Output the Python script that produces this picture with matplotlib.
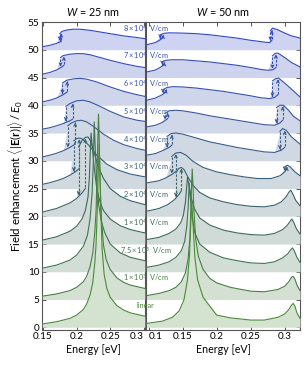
import numpy as np
import matplotlib
matplotlib.use("Agg")
import matplotlib.pyplot as plt
from matplotlib.colors import LinearSegmentedColormap, to_rgb

# ---------------- data ----------------
field_labels = ["linear", r"$1\times10^{3}$  V/cm", r"$7.5\times10^{3}$  V/cm",
                r"$1\times10^{4}$  V/cm", r"$2\times10^{4}$  V/cm", r"$3\times10^{4}$  V/cm",
                r"$4\times10^{4}$  V/cm", r"$5\times10^{4}$  V/cm", r"$6\times10^{4}$  V/cm",
                r"$7\times10^{4}$  V/cm", r"$8\times10^{4}$  V/cm"]
offset_step = 5
panel_titles = [r"$W$ = 25 nm", r"$W$ = 50 nm"]
xticks_25 = [0.15, 0.2, 0.25, 0.3]
xticks_50 = [0.1, 0.15, 0.2, 0.25, 0.3]
xticklabels_25 = ["0.15", "0.2", "0.25", "0.3"]
xticklabels_50 = ["0.1", "0.15", "0.2", "0.25", "0.3"]
yticks = [0, 5, 10, 15, 20, 25, 30, 35, 40, 45, 50, 55]

# ---- W = 25 nm (enhancement above each curve's own baseline) ----
w25_lin = [(0.149, 0.6), (0.17, 1.0), (0.19, 1.6), (0.20, 2.2), (0.21, 3.2), (0.215, 4.2), (0.22, 5.8),
           (0.224, 8.0), (0.227, 11.5), (0.229, 15), (0.231, 22), (0.2325, 29), (0.2335, 33),
           (0.2345, 29), (0.236, 21), (0.238, 14), (0.241, 9.5), (0.245, 7.0), (0.25, 5.4),
           (0.26, 3.9), (0.27, 3.1), (0.28, 2.6), (0.3015, 2.0)]
w25_1e3 = [(0.149, 0.6), (0.17, 1.0), (0.19, 1.6), (0.20, 2.2), (0.21, 3.2), (0.215, 4.2), (0.22, 5.9),
           (0.224, 8.3), (0.227, 12), (0.229, 16), (0.2305, 23), (0.2318, 30), (0.2326, 33.4),
           (0.2336, 29), (0.235, 21), (0.237, 14.5), (0.24, 9.8), (0.244, 7.2), (0.25, 5.4),
           (0.26, 3.9), (0.27, 3.1), (0.28, 2.6), (0.3015, 2.0)]
w25_75e3 = [(0.149, 0.65), (0.17, 1.2), (0.19, 2.1), (0.20, 3.0), (0.21, 4.6), (0.216, 6.5), (0.22, 9.5),
            (0.223, 14), (0.225, 20), (0.2262, 27), (0.2275, 23), (0.23, 16), (0.233, 12), (0.237, 9),
            (0.242, 7), (0.25, 5.0), (0.265, 3.4), (0.28, 2.6), (0.3015, 2.0)]
w25_1e4 = [(0.149, 0.7), (0.17, 1.3), (0.19, 2.3), (0.20, 3.2), (0.208, 4.5), (0.213, 6.0), (0.217, 8.5),
           (0.219, 12), (0.2205, 17), (0.2215, 20), (0.223, 18), (0.226, 14), (0.23, 10), (0.235, 7.5),
           (0.24, 6.0), (0.25, 4.5), (0.265, 3.3), (0.28, 2.6), (0.3015, 2.0)]
w25_2e4_lo = [(0.149, 0.75), (0.17, 1.4), (0.19, 2.4), (0.20, 3.2), (0.208, 4.2), (0.213, 5.0)]
w25_2e4_hi = [(0.203, 12.5), (0.208, 13.6), (0.213, 14.2), (0.217, 14.3), (0.221, 13.5), (0.226, 11.5),
              (0.232, 9.0), (0.24, 6.8), (0.25, 5.0), (0.265, 3.6), (0.28, 2.8), (0.3015, 2.1)]
w25_3e4_lo = [(0.149, 0.75), (0.16, 1.05), (0.17, 1.4), (0.18, 1.8), (0.19, 2.4), (0.198, 3.0), (0.204, 3.6)]
w25_3e4_hi = [(0.196, 8.6), (0.20, 9.0), (0.205, 9.1), (0.21, 8.8), (0.218, 7.8), (0.23, 6.0),
              (0.245, 4.4), (0.26, 3.4), (0.28, 2.6), (0.3015, 2.1)]
w25_4e4_lo = [(0.149, 0.7), (0.16, 1.0), (0.17, 1.35), (0.18, 1.8), (0.19, 2.4), (0.198, 3.0)]
w25_4e4_hi = [(0.187, 6.3), (0.192, 6.8), (0.20, 7.2), (0.207, 7.3), (0.215, 7.0), (0.225, 6.2),
              (0.24, 4.8), (0.255, 3.7), (0.27, 2.9), (0.29, 2.2), (0.3015, 1.9)]
w25_5e4_lo = [(0.149, 0.7), (0.16, 0.95), (0.17, 1.3), (0.18, 1.7), (0.19, 2.2), (0.194, 2.5)]
w25_5e4_hi = [(0.184, 4.8), (0.19, 5.3), (0.20, 5.8), (0.21, 5.9), (0.22, 5.6), (0.235, 4.8),
              (0.25, 3.9), (0.27, 2.9), (0.29, 2.3), (0.3015, 2.1)]
w25_6e4_lo = [(0.149, 0.6), (0.16, 0.9), (0.17, 1.3), (0.18, 1.9), (0.186, 2.4)]
w25_6e4_hi = [(0.179, 4.0), (0.185, 4.5), (0.195, 4.75), (0.205, 4.85), (0.215, 4.7), (0.23, 4.2),
              (0.25, 3.3), (0.27, 2.5), (0.29, 1.9), (0.3015, 1.6)]
w25_7e4_lo = [(0.149, 0.6), (0.16, 0.9), (0.17, 1.35), (0.178, 1.9), (0.181, 2.2)]
w25_7e4_hi = [(0.176, 3.6), (0.18, 3.95), (0.19, 4.2), (0.20, 4.3), (0.21, 4.3), (0.22, 4.1),
              (0.235, 3.6), (0.25, 3.1), (0.27, 2.5), (0.29, 2.0), (0.3015, 1.8)]
w25_8e4_lo = [(0.149, 0.55), (0.16, 0.8), (0.17, 1.15), (0.177, 1.5)]
w25_8e4_hi = [(0.175, 2.9), (0.178, 3.3), (0.185, 3.55), (0.195, 3.7), (0.205, 3.7), (0.22, 3.5),
              (0.235, 3.2), (0.25, 2.9), (0.27, 2.5), (0.29, 2.2), (0.3015, 2.0)]

# ---- W = 50 nm ----
w50_lin = [(0.097, 0.7), (0.12, 1.1), (0.135, 1.8), (0.145, 3.0), (0.152, 5.0), (0.157, 8.5), (0.16, 13),
           (0.162, 19), (0.1635, 22.5), (0.165, 19), (0.168, 12.5), (0.172, 8.5), (0.18, 5.4),
           (0.19, 3.8), (0.20, 2.2), (0.22, 1.7), (0.25, 1.3), (0.27, 1.3), (0.29, 1.8), (0.30, 2.4),
           (0.306, 3.2), (0.31, 4.0), (0.3125, 4.3), (0.315, 3.8), (0.318, 2.6), (0.3225, 1.6)]
w50_1e3 = [(0.097, 0.7), (0.115, 1.1), (0.13, 1.6), (0.14, 2.2), (0.148, 3.2), (0.154, 4.8), (0.158, 7.3),
           (0.1605, 11), (0.162, 16), (0.1632, 21), (0.164, 23.5), (0.165, 21), (0.1665, 16), (0.169, 11),
           (0.173, 7.8), (0.18, 5.4), (0.19, 3.8), (0.20, 3.0), (0.22, 2.2), (0.25, 1.5), (0.27, 1.4),
           (0.29, 1.8), (0.30, 2.4), (0.306, 3.2), (0.31, 4.0), (0.3123, 4.2), (0.315, 3.7), (0.318, 2.6),
           (0.3225, 1.6)]
w50_75e3 = [(0.097, 0.8), (0.115, 1.2), (0.13, 1.8), (0.14, 2.6), (0.148, 3.8), (0.153, 5.5), (0.156, 8.2),
            (0.158, 11.5), (0.1595, 16), (0.161, 13.5), (0.164, 9.8), (0.168, 7.0), (0.175, 5.0),
            (0.19, 3.5), (0.21, 2.5), (0.23, 2.0), (0.25, 1.6), (0.27, 1.5), (0.285, 1.8), (0.297, 2.5),
            (0.305, 3.3), (0.309, 4.0), (0.3115, 4.3), (0.314, 3.8), (0.318, 2.6), (0.3225, 1.7)]
w50_1e4 = [(0.097, 0.8), (0.115, 1.2), (0.13, 1.9), (0.14, 2.7), (0.147, 3.8), (0.151, 5.2), (0.154, 7.5),
           (0.156, 10.5), (0.157, 12), (0.159, 10.8), (0.162, 8.6), (0.167, 6.4), (0.175, 4.7),
           (0.19, 3.4), (0.21, 2.5), (0.23, 2.0), (0.25, 1.7), (0.27, 1.6), (0.285, 1.9), (0.297, 2.6),
           (0.304, 3.4), (0.308, 4.1), (0.3105, 4.5), (0.313, 4.0), (0.317, 2.8), (0.3225, 1.8)]
w50_2e4_a = [(0.097, 0.9), (0.115, 1.4), (0.128, 2.1), (0.138, 3.0), (0.145, 4.0), (0.148, 4.6)]
w50_2e4_b = [(0.14, 7.8), (0.144, 8.6), (0.148, 8.8), (0.152, 8.4), (0.158, 7.0), (0.165, 5.6),
             (0.175, 4.3), (0.19, 3.3), (0.21, 2.6), (0.23, 2.1), (0.25, 1.8), (0.27, 1.7), (0.285, 2.0),
             (0.295, 2.6), (0.302, 3.5), (0.306, 4.3), (0.309, 4.7), (0.312, 4.0), (0.316, 2.9),
             (0.3225, 1.9)]
w50_3e4_a = [(0.097, 1.0), (0.115, 1.4), (0.125, 1.9), (0.135, 2.6), (0.14, 3.1)]
w50_3e4_b = [(0.134, 5.8), (0.14, 6.4), (0.147, 6.5), (0.155, 6.0), (0.165, 4.9), (0.18, 3.8),
             (0.20, 3.0), (0.22, 2.5), (0.24, 2.1), (0.26, 1.8), (0.28, 1.8), (0.293, 2.3), (0.30, 3.0),
             (0.303, 3.5)]
w50_3e4_c = [(0.30, 3.9), (0.304, 4.2), (0.308, 3.9), (0.315, 3.0), (0.3225, 2.3)]
w50_4e4_a = [(0.097, 1.0), (0.11, 1.3), (0.12, 1.8), (0.13, 2.4), (0.134, 2.8)]
w50_4e4_b = [(0.127, 4.4), (0.133, 4.9), (0.14, 5.0), (0.15, 4.8), (0.17, 4.1), (0.19, 3.4), (0.21, 2.9),
             (0.23, 2.4), (0.25, 2.0), (0.27, 1.6), (0.285, 1.5), (0.295, 1.9), (0.30, 2.4)]
w50_4e4_c = [(0.293, 5.3), (0.297, 5.8), (0.302, 5.5), (0.31, 4.3), (0.3225, 3.0)]
w50_5e4_a = [(0.097, 1.1), (0.11, 1.4), (0.12, 1.9), (0.128, 2.6)]
w50_5e4_b = [(0.124, 3.5), (0.13, 4.0), (0.14, 4.1), (0.15, 4.0), (0.17, 3.6), (0.19, 3.1), (0.21, 2.7),
             (0.23, 2.3), (0.25, 1.9), (0.27, 1.5), (0.285, 1.4), (0.293, 1.8), (0.297, 2.3)]
w50_5e4_c = [(0.288, 4.6), (0.293, 5.0), (0.298, 5.0), (0.305, 4.2), (0.313, 3.0), (0.3225, 2.2)]
w50_6e4_a = [(0.097, 0.9), (0.11, 1.3), (0.12, 1.9), (0.125, 2.4)]
w50_6e4_b = [(0.121, 2.8), (0.127, 3.2), (0.135, 3.35), (0.15, 3.3), (0.17, 3.1), (0.19, 2.8), (0.21, 2.5),
             (0.23, 2.1), (0.25, 1.7), (0.265, 1.35), (0.278, 1.2), (0.285, 1.4), (0.29, 1.9)]
w50_6e4_c = [(0.282, 4.4), (0.287, 4.8), (0.291, 4.9), (0.30, 4.0), (0.31, 2.9), (0.3225, 1.5)]
w50_7e4_a = [(0.097, 1.0), (0.11, 1.35), (0.118, 1.9), (0.123, 2.4)]
w50_7e4_b = [(0.12, 2.8), (0.125, 3.1), (0.135, 3.2), (0.15, 3.2), (0.17, 3.0), (0.19, 2.8), (0.21, 2.5),
             (0.23, 2.2), (0.25, 1.8), (0.265, 1.45), (0.275, 1.3), (0.283, 1.4), (0.287, 1.8)]
w50_7e4_c = [(0.282, 3.9), (0.286, 4.35), (0.29, 4.4), (0.30, 3.6), (0.31, 2.7), (0.3225, 1.9)]
w50_8e4_a = [(0.097, 0.9), (0.11, 1.3), (0.117, 1.8), (0.121, 2.2)]
w50_8e4_b = [(0.117, 2.7), (0.122, 2.95), (0.13, 3.05), (0.15, 3.0), (0.17, 2.9), (0.19, 2.7), (0.21, 2.4),
             (0.23, 2.1), (0.25, 1.7), (0.263, 1.5), (0.272, 1.35), (0.278, 1.3), (0.281, 1.7)]
w50_8e4_c = [(0.279, 3.4), (0.282, 3.9), (0.29, 3.6), (0.30, 3.0), (0.31, 2.5), (0.3225, 2.1)]

w25_curves = [[w25_lin], [w25_1e3], [w25_75e3], [w25_1e4], [w25_2e4_lo, w25_2e4_hi],
              [w25_3e4_lo, w25_3e4_hi], [w25_4e4_lo, w25_4e4_hi], [w25_5e4_lo, w25_5e4_hi],
              [w25_6e4_lo, w25_6e4_hi], [w25_7e4_lo, w25_7e4_hi], [w25_8e4_lo, w25_8e4_hi]]
w50_curves = [[w50_lin], [w50_1e3], [w50_75e3], [w50_1e4], [w50_2e4_a, w50_2e4_b],
              [w50_3e4_a, w50_3e4_b, w50_3e4_c], [w50_4e4_a, w50_4e4_b, w50_4e4_c],
              [w50_5e4_a, w50_5e4_b, w50_5e4_c], [w50_6e4_a, w50_6e4_b, w50_6e4_c],
              [w50_7e4_a, w50_7e4_b, w50_7e4_c], [w50_8e4_a, w50_8e4_b, w50_8e4_c]]

# ---------------- style ----------------
plt.rcParams["font.family"] = ["Lato", "DejaVu Sans"]
plt.rcParams["mathtext.fontset"] = "custom"
plt.rcParams["mathtext.rm"] = "Lato"
plt.rcParams["mathtext.it"] = "Lato:italic"
plt.rcParams["mathtext.bf"] = "Lato:bold"

cmap = LinearSegmentedColormap.from_list("gb", ["#4c8a3a", "#3b6560", "#3b5a9a", "#3347c4"])
n = len(field_labels)
colors = [cmap(i / (n - 1)) for i in range(n)]
fill_alpha = 0.24
fills = [tuple(1 - fill_alpha * (1 - v) for v in to_rgb(c)) for c in colors]
spine_c = "#555555"

fig = plt.figure(figsize=(3.07, 3.68), dpi=100)
W, H = 307, 368
ybot, ytop = 329.5, 22
axL = fig.add_axes([42 / W, (H - ybot) / H, (144.8 - 42) / W, (ybot - ytop) / H])
axR = fig.add_axes([146.3 / W, (H - ybot) / H, (300 - 146.3) / W, (ybot - ytop) / H])
axL.set_xlim(0.1485, 0.3015)
axR.set_xlim(0.0965, 0.3225)
for ax in (axL, axR):
    ax.set_ylim(-0.4, 55)
    for s in ax.spines.values():
        s.set_color(spine_c)
        s.set_linewidth(0.8)


def segxy(seg):
    a = np.array(seg)
    return a[:, 0], a[:, 1]


def draw(ax, curves):
    for i in reversed(range(len(curves))):
        segs = curves[i]
        off = offset_step * i
        c = colors[i]
        z = 2 + 0.1 * (len(curves) - i)
        env = []
        for k, s in enumerate(segs):
            nxt = segs[k + 1][0][0] if k + 1 < len(segs) else np.inf
            env += [p for p in s if p[0] < nxt]
        ex, ey = segxy(env)
        ax.fill_between(ex, off, ey + off, color=fills[i], lw=0, zorder=z)
        zl = 10 + 0.1 * (len(curves) - i)
        for s in segs:
            sx, sy = segxy(s)
            ax.plot(sx, sy + off, color=c, lw=0.8, zorder=zl)
        for k in range(len(segs) - 1):
            lx, ly = segxy(segs[k])
            hx, hy = segxy(segs[k + 1])
            # jump down at the left fold of the upper branch
            xd = hx[0]
            y0, y1 = hy[0] + off - 0.2, np.interp(xd, lx, ly) + off + 0.2
            ax.plot([xd, xd], [y0, y1], color=c, lw=0.8, ls=(0, (2.2, 1.4)), zorder=zl)
            ax.annotate("", xy=(xd, y1), xytext=(xd, y1 + 0.6),
                        arrowprops=dict(arrowstyle="->", color=c, lw=0.7, mutation_scale=5,
                                        shrinkA=0, shrinkB=0), zorder=zl)
            # jump up at the right end of the lower branch
            xu = lx[-1]
            y0, y1 = ly[-1] + off + 0.2, np.interp(xu, hx, hy) + off - 0.2
            ax.plot([xu, xu], [y0, y1], color=c, lw=0.8, ls=(0, (2.2, 1.4)), zorder=zl)
            ax.annotate("", xy=(xu, y1), xytext=(xu, y1 - 0.6),
                        arrowprops=dict(arrowstyle="->", color=c, lw=0.7, mutation_scale=5,
                                        shrinkA=0, shrinkB=0), zorder=zl)


draw(axL, w25_curves)
draw(axR, w50_curves)

tick_fs = 7.2
axL.set_xticks(xticks_25)
axL.set_xticklabels(xticklabels_25)
axR.set_xticks(xticks_50)
axR.set_xticklabels(xticklabels_50)
axL.set_yticks(yticks)
axR.set_yticks(yticks)
axL.tick_params(axis="both", direction="in", length=3, width=0.7, color=spine_c, labelsize=tick_fs,
                top=True, right=False, pad=2)
axR.tick_params(axis="both", direction="in", length=3, width=0.7, color=spine_c, labelsize=tick_fs,
                top=True, right=True, left=False, labelleft=False, pad=2)
axL.get_xticklabels()[-1].set_ha("right")
axR.get_xticklabels()[0].set_ha("left")

for ax, t in zip((axL, axR), panel_titles):
    ax.set_title(t, fontsize=7.8, pad=4)
    ax.set_xlabel("Energy [eV]", fontsize=7.7, labelpad=2)
axL.set_ylabel(r"Field enhancement $\langle|\mathbf{E}(\mathbf{r})|\rangle\,/\,E_0$", fontsize=8.2, labelpad=2)

# field labels straddle the break between the two panels (figure-level text, above both axes)
x_lab = 145.5 / W
for i, lab in enumerate(field_labels):
    ydisp = axL.transData.transform((0, offset_step * i + 3.9))[1]
    yfig = fig.transFigure.inverted().transform((0, ydisp))[1]
    fig.text(x_lab, yfig, lab, ha="center", va="center", fontsize=5.3, color=colors[i], zorder=60)

fig.savefig("out.png", dpi=100)
